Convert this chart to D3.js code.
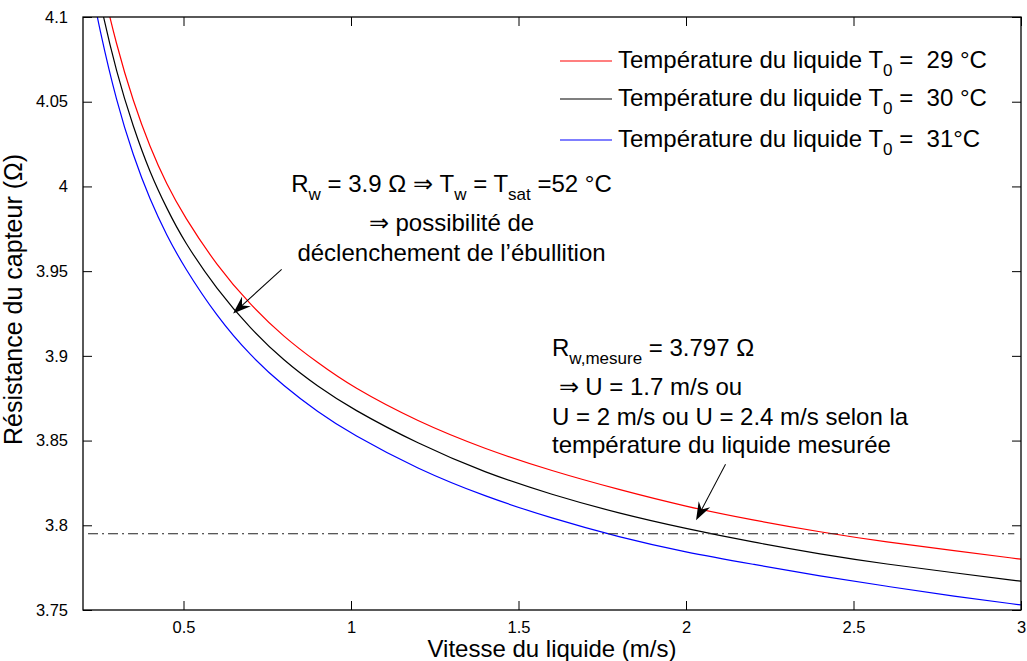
<!DOCTYPE html>
<html>
<head>
<meta charset="utf-8">
<script src="https://cdnjs.cloudflare.com/ajax/libs/d3/7.8.5/d3.min.js"></script>
<style>
  body { margin: 0; background: #fff; }
  svg { font-family: "Liberation Sans", Arial, Helvetica, sans-serif; }
  text { white-space: pre; }
</style>
</head>
<body>
<div id="chart"></div>
<script>
// liquid speed (m/s) and sensor resistance (Ohm) for each liquid temperature
const speeds       = [0.22, 0.25, 0.3, 0.35, 0.4, 0.45, 0.5, 0.6, 0.7, 0.8, 0.9, 1.0, 1.2, 1.4, 1.6, 1.8, 2.0, 2.2, 2.4, 2.6, 2.8, 3.0];
const resistance29 = [4.157, 4.125, 4.083, 4.050, 4.023, 4.001, 3.983, 3.953, 3.930, 3.911, 3.896, 3.882, 3.861, 3.845, 3.832, 3.821, 3.811, 3.803, 3.796, 3.790, 3.785, 3.780];
const resistance30 = [4.141, 4.109, 4.067, 4.035, 4.008, 3.987, 3.968, 3.939, 3.916, 3.897, 3.882, 3.869, 3.848, 3.831, 3.818, 3.807, 3.798, 3.790, 3.783, 3.777, 3.772, 3.767];
const resistance31 = [4.123, 4.092, 4.050, 4.018, 3.992, 3.971, 3.953, 3.923, 3.900, 3.882, 3.867, 3.854, 3.833, 3.817, 3.804, 3.793, 3.784, 3.777, 3.770, 3.764, 3.758, 3.753];
const seriesLabels = ['29 °C', '30 °C', '31°C'];
const seriesColors = ['#ff0000', '#000000', '#0000ff'];

const xTicks = [0.5, 1, 1.5, 2, 2.5, 3];
const yTicks = [3.75, 3.8, 3.85, 3.9, 3.95, 4, 4.05, 4.1];

// measured resistance level (dash-dot line)
const measuredLevel = 3.795;
const measuredSpan = [0.215, 2.98];

// annotation arrows, data coords [speed, resistance]
const boilingArrow = { tail: [0.793, 3.951], tip: [0.648, 3.925] };
const measureArrow = { tail: [2.118, 3.836], tip: [2.030, 3.803] };

const config = {
  width: 1027,
  height: 661,
  margin: { top: 17, right: 6, bottom: 51, left: 83 },
  tickSize: 9,
  lineWidth: 1.2,
  subShift: 8
};

const innerW = config.width - config.margin.left - config.margin.right;
const innerH = config.height - config.margin.top - config.margin.bottom;

const svg = d3.select('#chart').append('svg')
  .attr('width', config.width)
  .attr('height', config.height);

const g = svg.append('g')
  .attr('transform', `translate(${config.margin.left},${config.margin.top})`);

const xScale = d3.scaleLinear().domain([0.2, 3]).range([0, innerW]);
const yScale = d3.scaleLinear().domain([3.75, 4.1]).range([innerH, 0]);

g.append('defs').append('clipPath').attr('id', 'plot-clip')
  .append('rect').attr('width', innerW).attr('height', innerH);

// curves
const series = [resistance29, resistance30, resistance31].map((vals, i) => ({
  color: seriesColors[i],
  label: seriesLabels[i],
  points: speeds.map((s, j) => [s, vals[j]])
}));

const line = d3.line()
  .x(d => xScale(d[0]))
  .y(d => yScale(d[1]))
  .curve(d3.curveBasis);

g.append('g').attr('clip-path', 'url(#plot-clip)')
  .selectAll('path')
  .data(series)
  .join('path')
  .attr('d', d => line(d.points))
  .attr('fill', 'none')
  .attr('stroke', d => d.color)
  .attr('stroke-width', config.lineWidth);

// dash-dot reference line
g.append('line')
  .attr('x1', xScale(measuredSpan[0]))
  .attr('x2', xScale(measuredSpan[1]))
  .attr('y1', yScale(measuredLevel))
  .attr('y2', yScale(measuredLevel))
  .attr('stroke', '#222')
  .attr('stroke-width', 1.1)
  .attr('stroke-dasharray', '10,4,2,4');

// axes (ticks inward, box all round)
const axisStyle = sel => {
  sel.select('.domain').remove();
  sel.selectAll('line').attr('stroke', '#000');
  sel.selectAll('text').style('font-size', '16.5px').attr('fill', '#000');
};

g.append('g')
  .attr('transform', `translate(0,${innerH})`)
  .call(d3.axisBottom(xScale).tickValues(xTicks).tickSizeInner(-config.tickSize).tickSizeOuter(0).tickPadding(11).tickFormat(d => String(d)))
  .call(axisStyle);

g.append('g')
  .call(d3.axisTop(xScale).tickValues(xTicks).tickSizeInner(-config.tickSize).tickSizeOuter(0).tickFormat(''))
  .call(axisStyle);

g.append('g')
  .call(d3.axisLeft(yScale).tickValues(yTicks).tickSizeInner(-config.tickSize).tickSizeOuter(0).tickPadding(15).tickFormat(d => String(d)))
  .call(axisStyle);

g.append('g')
  .attr('transform', `translate(${innerW},0)`)
  .call(d3.axisRight(yScale).tickValues(yTicks).tickSizeInner(-config.tickSize).tickSizeOuter(0).tickFormat(''))
  .call(axisStyle);

g.append('rect')
  .attr('width', innerW)
  .attr('height', innerH)
  .attr('fill', 'none')
  .attr('stroke', '#000')
  .attr('stroke-width', 1.3);

// axis titles
g.append('text')
  .attr('x', innerW / 2)
  .attr('y', innerH + 47)
  .attr('text-anchor', 'middle')
  .style('font-size', '24px')
  .text('Vitesse du liquide (m/s)');

g.append('text')
  .attr('transform', `translate(${-61},${innerH / 2 - 14}) rotate(-90)`)
  .attr('text-anchor', 'middle')
  .style('font-size', '25px')
  .text('Résistance du capteur (Ω)');

// text line with subscripts: parts are {t} or {sub}
function richLine(sel, parts) {
  let shift = 0;
  parts.forEach(p => {
    if (p.sub) {
      sel.append('tspan').attr('dy', config.subShift - shift).style('font-size', '17px').text(p.sub);
      shift = config.subShift;
    } else {
      sel.append('tspan').attr('dy', -shift).text(p.t);
      shift = 0;
    }
  });
}

// legend
const legendRows = g.append('g').attr('class', 'legend')
  .selectAll('g')
  .data(series)
  .join('g')
  .attr('transform', (d, i) => `translate(${560 - config.margin.left},${[44, 82, 123][i]})`);

legendRows.append('line')
  .attr('x1', 0).attr('x2', 52)
  .attr('y1', 0).attr('y2', 0)
  .attr('stroke', d => d.color)
  .attr('stroke-width', config.lineWidth);

legendRows.append('text')
  .attr('x', 58)
  .attr('y', 7)
  .style('font-size', '24px')
  .each(function(d) {
    richLine(d3.select(this), [{ t: 'Température du liquide T' }, { sub: '0' }, { t: ` =  ${d.label}` }]);
  });

// annotation 1 (boiling)
const ann1 = g.append('g')
  .attr('transform', `translate(${xScale(1.3)},${yScale(3.997)})`)
  .style('font-size', '24px')
  .attr('text-anchor', 'middle');

richLine(ann1.append('text').attr('y', 0), [
  { t: 'R' }, { sub: 'w' }, { t: ' = 3.9 Ω ⇒ T' }, { sub: 'w' }, { t: ' = T' }, { sub: 'sat' }, { t: ' =52 °C' }
]);
ann1.append('text').attr('y', 39).text('⇒ possibilité de');
ann1.append('text').attr('y', 69).text('déclenchement de l’ébullition');

// annotation 2 (measurement)
const ann2 = g.append('g')
  .attr('transform', `translate(${xScale(1.6)},${yScale(3.9)})`)
  .style('font-size', '24px');

richLine(ann2.append('text').attr('y', 0), [
  { t: 'R' }, { sub: 'w,mesure' }, { t: ' = 3.797 Ω' }
]);
ann2.append('text').attr('y', 39).text(' ⇒ U = 1.7 m/s ou');
ann2.append('text').attr('y', 69).text('U = 2 m/s ou U = 2.4 m/s selon la');
ann2.append('text').attr('y', 97).text('température du liquide mesurée');

// arrows
function drawArrow(a) {
  const x1 = xScale(a.tail[0]), y1 = yScale(a.tail[1]);
  const x2 = xScale(a.tip[0]), y2 = yScale(a.tip[1]);
  const ang = Math.atan2(y2 - y1, x2 - x1) * 180 / Math.PI;
  const len = Math.hypot(x2 - x1, y2 - y1);
  const ag = g.append('g').attr('transform', `translate(${x1},${y1}) rotate(${ang})`);
  ag.append('line')
    .attr('x1', 0).attr('y1', 0).attr('x2', len - 10).attr('y2', 0)
    .attr('stroke', '#000').attr('stroke-width', 1);
  ag.append('path')
    .attr('d', `M${len},0 L${len - 18},-6.5 L${len - 12},0 L${len - 18},6.5 Z`)
    .attr('fill', '#000');
}
drawArrow(boilingArrow);
drawArrow(measureArrow);
</script>
</body>
</html>
